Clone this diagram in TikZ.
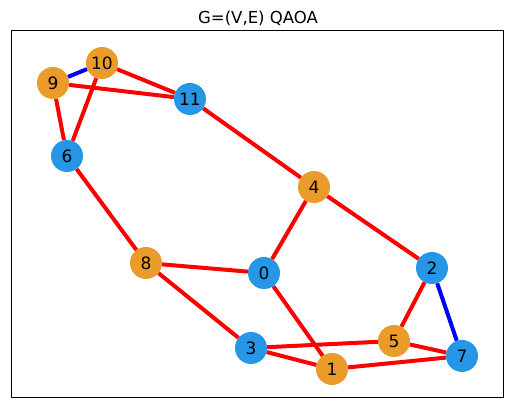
\documentclass[tikz,border=0pt]{standalone}
\usepackage{fontspec}
\setmainfont{DejaVu Sans}
\definecolor{nblue}{RGB}{38,150,230}
\definecolor{norange}{RGB}{234,155,42}
\begin{document}
\begin{tikzpicture}[x=1pt,y=-1pt,
  vb/.style={circle,fill=nblue,minimum size=32pt,inner sep=0pt,font=\fontsize{17}{17}\selectfont},
  vo/.style={circle,fill=norange,minimum size=32pt,inner sep=0pt,font=\fontsize{17}{17}\selectfont},
  re/.style={draw=red,line width=4pt},
  be/.style={draw=blue,line width=4pt}]
\useasboundingbox (0,0) rectangle (515,411);
\draw[line width=1pt] (11,31) rectangle (503,398);
\node[font=\fontsize{16.5}{16.5}\selectfont] (title) at (258,18) {G=(V,E) QAOA};
\node[vo] (n10) at (102,63) {10};
\node[vo] (n9) at (53,83) {9};
\node[vb] (n11) at (190,99) {11};
\node[vb] (n6) at (67,156) {6};
\node[vo] (n4) at (314,187) {4};
\node[vo] (n8) at (146,263) {8};
\node[vb] (n0) at (264,273) {0};
\node[vb] (n2) at (432,268) {2};
\node[vo] (n5) at (394,341) {5};
\node[vb] (n3) at (251,348) {3};
\node[vo] (n1) at (332,369) {1};
\node[vb] (n7) at (462,356) {7};
\path[be] (n9) -- (n10);
\path[re] (n9) -- (n11);
\path[re] (n10) -- (n11);
\path[re] (n10) -- (n6);
\path[re] (n9) -- (n6);
\path[re] (n11) -- (n4);
\path[re] (n6) -- (n8);
\path[re] (n4) -- (n0);
\path[re] (n4) -- (n2);
\path[re] (n8) -- (n0);
\path[re] (n8) -- (n3);
\path[re] (n0) -- (n1);
\path[re] (n2) -- (n5);
\path[be] (n2) -- (n7);
\path[re] (n3) -- (n5);
\path[re] (n3) -- (n1);
\path[re] (n5) -- (n7);
\path[re] (n1) -- (n7);
\end{tikzpicture}
\end{document}
